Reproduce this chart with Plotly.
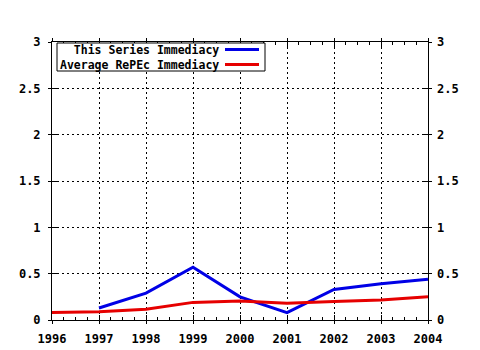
import plotly.graph_objects as go

years = [1996, 1997, 1998, 1999, 2000, 2001, 2002, 2003, 2004]
series_years = [1997, 1998, 1999, 2000, 2001, 2002, 2003, 2004]
series_vals = [0.13, 0.29, 0.57, 0.25, 0.08, 0.33, 0.39, 0.44]
avg_vals = [0.08, 0.09, 0.115, 0.19, 0.205, 0.18, 0.20, 0.215, 0.25]
names = ["This Series Immediacy", "Average RePEc Immediacy"]
colors = ["#0000e6", "#e60000"]
y_ticks = [0, 0.5, 1, 1.5, 2, 2.5, 3]
y_labels = ["0", "0.5", "1", "1.5", "2", "2.5", "3"]

FONT = dict(family="DejaVu Sans Mono", size=12, color="black")
LFONT = dict(family="DejaVu Sans Mono", size=11.5, color="black")
GRID = dict(showgrid=True, gridcolor="black", griddash="2px,3px", gridwidth=1)

fig = go.Figure()
fig.add_trace(go.Scatter(x=series_years, y=series_vals, mode="lines",
                         line=dict(color=colors[0], width=3), name=names[0],
                         showlegend=False))
fig.add_trace(go.Scatter(x=years, y=avg_vals, mode="lines",
                         line=dict(color=colors[1], width=3), name=names[1],
                         showlegend=False))
# invisible trace for the overlay axes
fig.add_trace(go.Scatter(x=[years[0]], y=[0], xaxis="x2", yaxis="y2", mode="markers",
                         marker=dict(opacity=0), showlegend=False, hoverinfo="skip"))

fig.update_layout(
    width=480, height=350,
    margin=dict(l=52, r=52, t=42, b=30),
    paper_bgcolor="white", plot_bgcolor="white",
    font=FONT,
    xaxis=dict(range=[1996, 2004], tickvals=years, ticktext=[f"<b>{y}</b>" for y in years],
               **GRID, automargin=False,
               showline=True, linecolor="black", linewidth=1, mirror="ticks",
               ticks="outside", ticklen=3, tickcolor="black",
               zeroline=False, tickfont=FONT, ticklabelstandoff=5, fixedrange=True),
    xaxis2=dict(range=[1996, 2004], tickvals=years, overlaying="x", side="bottom",
                showgrid=False, showline=False, showticklabels=False, automargin=False,
                ticks="inside", ticklen=5, tickcolor="black", mirror="ticks",
                minor=dict(dtick=0.25, tick0=1996, ticks="inside", ticklen=3,
                           tickcolor="black", showgrid=False),
                zeroline=False),
    yaxis=dict(range=[0, 3], tickvals=y_ticks, ticktext=[f"<b>{t}</b>" for t in y_labels],
               **GRID, automargin=False,
               showline=True, linecolor="black", linewidth=1, mirror="ticks",
               ticks="outside", ticklen=3, tickcolor="black",
               zeroline=False, tickfont=FONT, ticklabelstandoff=5),
    yaxis2=dict(range=[0, 3], tickvals=y_ticks, ticktext=[f"<b>{t}</b>" for t in y_labels],
                overlaying="y", side="right", showgrid=False, showline=False,
                automargin=False,
                ticks="inside", ticklen=5, tickcolor="black", mirror="ticks",
                zeroline=False, tickfont=FONT, ticklabelstandoff=8),
)

# manual gnuplot-style legend (text right-aligned, sample line to the right)
plot_w = 480 - 52 - 52
plot_h = 350 - 42 - 30
def px_x(p):
    return (p - 52) / plot_w
def px_y(p):
    return (350 - 30 - p) / plot_h

box_top, box_bot = 43, 71
mid = (box_top + box_bot) / 2
line_gap = 1.3 * LFONT["size"]
fig.add_shape(type="rect", xref="paper", yref="paper",
              x0=px_x(57), x1=px_x(265), y0=px_y(box_bot), y1=px_y(box_top),
              line=dict(color="black", width=1), fillcolor="white", layer="above")
fig.add_annotation(xref="paper", yref="paper", x=px_x(220), y=px_y(mid),
                   text="<br>".join(f"<b>{nm}</b>" for nm in names),
                   showarrow=False, xanchor="right", yanchor="middle", align="right",
                   font=LFONT, borderpad=0)
for i, c in enumerate(colors):
    yy = mid + (i - 0.5) * line_gap
    fig.add_shape(type="line", xref="paper", yref="paper",
                  x0=px_x(225), x1=px_x(259), y0=px_y(yy), y1=px_y(yy),
                  line=dict(color=c, width=3), layer="above")

fig.write_html("out.html")
